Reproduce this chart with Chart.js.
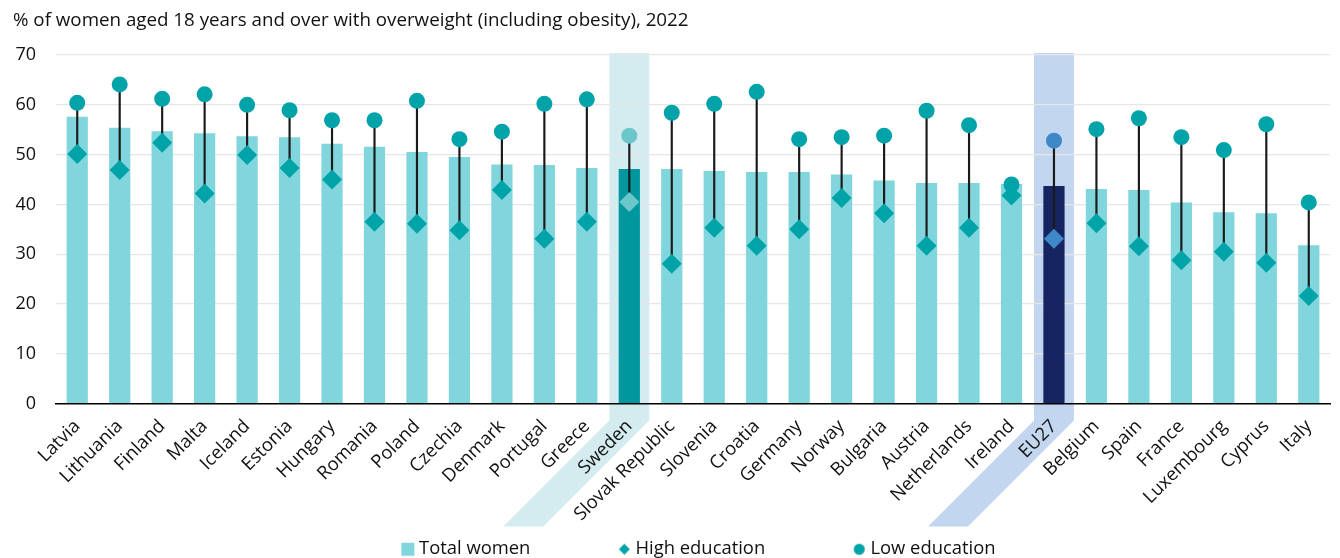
<!DOCTYPE html>
<html>
<head>
<meta charset="utf-8">
<script src="https://cdn.jsdelivr.net/npm/chart.js@4.4.1/dist/chart.umd.min.js"></script>
<style>
  html, body { margin: 0; padding: 0; background: #fff; overflow: hidden; }
  #wrap { position: relative; width: 1340px; height: 558px; }
</style>
</head>
<body>
<div id="wrap"><canvas id="c"></canvas></div>
<script>
const titleText = '% of women aged 18 years and over with overweight (including obesity), 2022';
const categories = ['Latvia','Lithuania','Finland','Malta','Iceland','Estonia','Hungary','Romania','Poland','Czechia','Denmark','Portugal','Greece','Sweden','Slovak Republic','Slovenia','Croatia','Germany','Norway','Bulgaria','Austria','Netherlands','Ireland','EU27','Belgium','Spain','France','Luxembourg','Cyprus','Italy'];
const totalWomen = [57.6,55.4,54.7,54.3,53.7,53.5,52.2,51.6,50.5,49.5,48.0,47.9,47.3,47.1,47.1,46.7,46.5,46.5,46.0,44.8,44.3,44.3,44.1,43.7,43.1,42.9,40.4,38.4,38.2,31.8];
const highEducation = [50.1,46.9,52.4,42.2,49.9,47.3,45.0,36.5,36.1,34.8,42.9,33.1,36.5,40.5,28.1,35.3,31.7,35.0,41.3,38.2,31.7,35.3,41.8,33.1,36.2,31.6,28.8,30.5,28.3,21.6];
const lowEducation = [60.4,64.1,61.2,62.1,60.0,58.9,56.9,56.9,60.8,53.1,54.6,60.2,61.1,53.8,58.4,60.2,62.6,53.1,53.5,53.8,58.8,55.9,44.0,52.8,55.1,57.3,53.5,50.9,56.1,40.4];
const yTicks = [0,10,20,30,40,50,60,70];
const seriesNames = ['Total women','High education','Low education'];
const countryHighlight = 'Sweden';
const aggregateHighlight = 'EU27';

const C = {
  bar: '#80d6dc', barCountry: '#00979f', barAgg: '#172462',
  marker: '#00a3a8', markerCountry: '#6cc7cb', markerAgg: '#3f88c8',
  bandCountry: '#d4ebf0', bandAgg: '#c3d6ef', stem: '#1a1a1a', text: '#111'
};
const FONT = '"Open Sans", "Noto Sans", sans-serif';

const barColors = categories.map(c => c === countryHighlight ? C.barCountry : c === aggregateHighlight ? C.barAgg : C.bar);
const markerColors = categories.map(c => c === countryHighlight ? C.markerCountry : c === aggregateHighlight ? C.markerAgg : C.marker);
const stems = categories.map((c, i) => [highEducation[i], lowEducation[i]]);

function icon(shape, color, size, boxW) {
  const off = boxW / 2 - 2;
  const w = Math.ceil(2 * (off + size / 2 + 2));
  const h = Math.ceil(size + 4);
  const cv = document.createElement('canvas');
  cv.width = w; cv.height = h;
  const g = cv.getContext('2d');
  const cx = w / 2 + off, cy = h / 2;
  g.fillStyle = color;
  g.beginPath();
  if (shape === 'square') g.rect(cx - size / 2, cy - size / 2, size, size);
  else if (shape === 'diamond') { g.moveTo(cx, cy - size / 2); g.lineTo(cx + size / 2, cy); g.lineTo(cx, cy + size / 2); g.lineTo(cx - size / 2, cy); g.closePath(); }
  else g.arc(cx, cy, size / 2, 0, Math.PI * 2);
  g.fill();
  return cv;
}
const BOXW = 90;
const legendIcons = [icon('square', C.bar, 13, BOXW), icon('diamond', C.marker, 11, BOXW), icon('circle', C.marker, 11, BOXW)];

const bandPlugin = {
  id: 'bands',
  beforeDraw(chart) {
    const { ctx, scales: { x, y } } = chart;
    const half = (x.getPixelForValue(1) - x.getPixelForValue(0)) * 0.47;
    const top = y.getPixelForValue(70) - 2;
    const bend = y.bottom + 17, bottom = y.bottom + 123, shift = bottom - bend;
    [[countryHighlight, C.bandCountry], [aggregateHighlight, C.bandAgg]].forEach(([name, col]) => {
      const cx = x.getPixelForValue(categories.indexOf(name));
      ctx.save();
      ctx.fillStyle = col;
      ctx.beginPath();
      ctx.moveTo(cx - half, top);
      ctx.lineTo(cx + half, top);
      ctx.lineTo(cx + half, bend);
      ctx.lineTo(cx + half - shift, bottom);
      ctx.lineTo(cx - half - shift, bottom);
      ctx.lineTo(cx - half, bend);
      ctx.closePath();
      ctx.fill();
      ctx.restore();
    });
  }
};

const legendPlace = {
  id: 'legendPlace',
  afterLayout(chart) {
    const lg = chart.legend;
    if (!lg || !lg.lineWidths) return;
    const p = lg.options.labels.padding;
    const fs = lg.options.labels.font.size;
    const startX = (lg.left + p + lg.right - lg.lineWidths[0]) / 2;
    const wantText = 419;
    const dx = wantText - (startX + BOXW + fs / 2);
    lg.left += dx; lg.right += dx;
    const dy = 534 - lg.top;
    lg.top += dy; lg.bottom += dy;
  }
};

new Chart(document.getElementById('c'), {
  data: {
    labels: categories,
    datasets: [
      { type: 'line', label: seriesNames[2], data: lowEducation, showLine: false, pointStyle: 'circle', pointRadius: 8, pointHoverRadius: 8, pointBackgroundColor: markerColors, pointBorderWidth: 0, order: 1 },
      { type: 'line', label: seriesNames[1], data: highEducation, showLine: false, pointStyle: 'rectRot', pointRadius: 10, pointHoverRadius: 10, pointBackgroundColor: markerColors, pointBorderWidth: 0, order: 2 },
      { type: 'bar', label: 'range', data: stems, backgroundColor: C.stem, barThickness: 1.5, grouped: false, order: 3 },
      { type: 'bar', label: seriesNames[0], data: totalWomen, backgroundColor: barColors, barPercentage: 0.5, categoryPercentage: 1, grouped: false, order: 4 }
    ]
  },
  options: {
    responsive: true,
    maintainAspectRatio: false,
    animation: false,
    devicePixelRatio: 1,
    layout: { padding: { left: 13, right: 7, top: 0, bottom: 0 } },
    plugins: {
      tooltip: { enabled: false },
      title: {
        display: true, text: titleText, align: 'start', color: C.text,
        font: { family: FONT, size: 18.75, weight: 'normal', lineHeight: 1.2 },
        padding: { top: 9, bottom: 23.5 }
      },
      legend: {
        display: true, position: 'bottom', align: 'center',
        labels: {
          usePointStyle: true, pointStyleWidth: BOXW, padding: 6, color: C.text,
          font: { family: FONT, size: 18.4 },
          generateLabels: () => seriesNames.map((n, i) => ({
            text: n, pointStyle: legendIcons[i], fillStyle: C.marker, strokeStyle: 'transparent', lineWidth: 0, hidden: false, datasetIndex: i, fontColor: C.text
          }))
        },
        onClick: null
      }
    },
    scales: {
      x: {
        grid: { display: false, drawTicks: false },
        border: { display: true, color: '#000', width: 1.5 },
        ticks: { color: C.text, font: { family: FONT, size: 18.4 }, maxRotation: 45, minRotation: 45, padding: 12, autoSkip: false },
        afterFit: s => { s.height = 120; }
      },
      y: {
        min: 0, max: 70,
        afterBuildTicks: s => { s.ticks = yTicks.map(v => ({ value: v })); },
        grid: { color: ctx => ctx.tick && ctx.tick.value === 0 ? 'rgba(0,0,0,0)' : '#e6e6e6', lineWidth: 1.3, drawTicks: false },
        border: { display: false },
        ticks: { color: C.text, font: { family: FONT, size: 18 }, padding: 20 },
        afterFit: s => { s.width = 43; }
      }
    }
  },
  plugins: [bandPlugin, legendPlace]
});
</script>
</body>
</html>
